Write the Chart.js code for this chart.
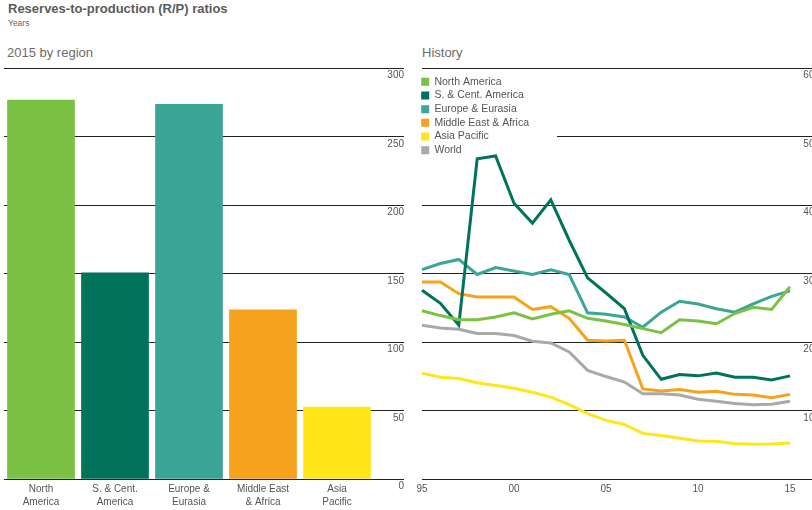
<!DOCTYPE html>
<html><head><meta charset="utf-8">
<script src="https://cdn.jsdelivr.net/npm/chart.js@4/dist/chart.umd.min.js"></script>
<style>
html,body{margin:0;padding:0;width:812px;height:510px;overflow:hidden;background:#fff;font-family:"Liberation Sans",Arial,sans-serif;position:relative;}
.t{position:absolute;white-space:nowrap;}
#title{left:8px;top:1px;font-size:13px;line-height:15px;font-weight:bold;color:#5b5b5b;}
#sub{left:8px;top:17.5px;font-size:8.5px;line-height:10px;color:#666;}
#h1{left:7px;top:44.5px;font-size:13px;line-height:15px;color:#6b6b6b;}
#h2{left:422px;top:44.5px;font-size:13px;line-height:15px;color:#6b6b6b;}
#c1{position:absolute;left:0;top:0;}
#c2{position:absolute;left:412px;top:0;}
</style></head>
<body>
<div class="t" id="title">Reserves-to-production (R/P) ratios</div>
<div class="t" id="sub">Years</div>
<div class="t" id="h1">2015 by region</div>
<div class="t" id="h2">History</div>
<canvas id="c1" width="404" height="510"></canvas>
<canvas id="c2" width="408" height="510"></canvas>
<script>
// ---- data ----
const regions = ['North America', 'S. & Cent. America', 'Europe & Eurasia', 'Middle East & Africa', 'Asia Pacific'];
const regionTickLines = [['North', 'America'], ['S. & Cent.', 'America'], ['Europe &', 'Eurasia'], ['Middle East', '& Africa'], ['Asia', 'Pacific']];
const rp2015 = [277, 151, 274, 124, 53];

const years = [1995, 1996, 1997, 1998, 1999, 2000, 2001, 2002, 2003, 2004, 2005, 2006, 2007, 2008, 2009, 2010, 2011, 2012, 2013, 2014, 2015];
const tickYears = [1995, 2000, 2005, 2010, 2015];
const tickYearLabels = ['95', '00', '05', '10', '15'];

const northAmerica = [246, 239, 233, 233, 237, 243, 234, 241, 246, 235, 231, 226, 220, 214, 233, 231, 227, 242, 251, 248, 281];
const sCentAmerica = [276, 257, 225, 468, 472, 403, 374, 408, 349, 294, 272, 249, 181, 146, 153, 151, 155, 149, 149, 145, 151];
const europeEurasia = [306, 315, 321, 299, 309, 304, 299, 306, 299, 243, 241, 237, 222, 244, 260, 256, 249, 244, 256, 267, 275];
const middleEastAfrica = [288, 288, 271, 266, 266, 266, 248, 252, 235, 203, 202, 203, 132, 129, 131, 127, 128.5, 124, 123, 119, 124];
const asiaPacific = [155, 149, 147, 141, 137, 133, 127, 120, 109, 96, 86, 80, 67, 64, 60, 56, 55.5, 52, 51, 51.5, 53];
const world = [225, 221, 219, 213, 213, 210, 201.5, 199, 186, 159, 150, 142, 125, 125, 123, 117, 114, 110.5, 109, 109.5, 114];

const barTicks = [0, 50, 100, 150, 200, 250, 300];
const historyTicks = [0, 100, 200, 300, 400, 500, 600];

// ---- styles ----
const colNA = '#7bc143', colSC = '#00735a', colEE = '#3ba596', colME = '#f6a21c', colAP = '#ffe619', colW = '#a8a9ab';
const FONT = '"Liberation Sans", Arial, sans-serif';
const tickColor = '#555';
const gridColor = '#222';

new Chart(document.getElementById('c1'), {
  type: 'bar',
  data: {
    labels: regionTickLines,
    datasets: [{
      data: rp2015,
      backgroundColor: [colNA, colSC, colEE, colME, colAP],
      barPercentage: 0.915,
      categoryPercentage: 1
    }]
  },
  options: {
    responsive: false, animation: false,
    layout: {padding: {left: 4, top: 68.3, right: 0, bottom: 0}},
    plugins: {legend: {display: false}, tooltip: {enabled: false}},
    scales: {
      x: {
        grid: {display: false, drawTicks: false}, border: {display: false},
        ticks: {color: tickColor, font: {family: FONT, size: 10, lineHeight: 1.3}, padding: 3, maxRotation: 0, autoSkip: false},
        afterFit: s => { s.height = 30.7; }
      },
      y: {
        position: 'right', min: 0, max: 300,
        afterBuildTicks: s => { s.ticks = barTicks.map(v => ({value: v})); },
        ticks: {color: tickColor, font: {family: FONT, size: 10}, crossAlign: 'far', labelOffset: 7, padding: 0},
        grid: {color: gridColor, lineWidth: 1, tickLength: 30, drawTicks: true, tickColor: gridColor},
        border: {display: false},
        afterFit: s => { s.width = 30; }
      }
    }
  }
});

const mk = (label, data, color) => ({label, data, borderColor: color, backgroundColor: color, borderWidth: 3, pointRadius: 0, tension: 0, fill: false});

const legendPlace = {
  id: 'legendPlace',
  beforeDraw(chart) {
    const lg = chart.legend;
    if (!lg) return;
    const dy = (chart.chartArea.top + 5) - lg.top;
    const dx = -4;
    lg.top += dy; lg.bottom += dy; lg.left += dx; lg.right += dx;
    if (lg.legendHitBoxes) lg.legendHitBoxes.forEach(h => { h.top += dy; h.left += dx; });
  },
  beforeDatasetsDraw(chart) {
    const lg = chart.legend;
    if (!lg || !lg.legendHitBoxes || !lg.legendHitBoxes.length) return;
    const hb = lg.legendHitBoxes;
    const last = hb[hb.length - 1];
    const ctx = chart.ctx;
    const top = chart.chartArea.top + 1;
    const bottom = last.top + last.height + 2;
    ctx.save();
    ctx.fillStyle = '#fff';
    ctx.fillRect(chart.chartArea.left - 1, top, 136, bottom - top);
    ctx.restore();
    lg.draw();
  }
};

new Chart(document.getElementById('c2'), {
  type: 'line',
  data: {
    labels: years,
    datasets: [
      mk('North America', northAmerica, colNA),
      mk('S. & Cent. America', sCentAmerica, colSC),
      mk('Europe & Eurasia', europeEurasia, colEE),
      mk('Middle East & Africa', middleEastAfrica, colME),
      mk('Asia Pacific', asiaPacific, colAP),
      mk('World', world, colW)
    ]
  },
  plugins: [legendPlace],
  options: {
    responsive: false, animation: false,
    layout: {padding: {left: 10, top: 68.3, right: 0, bottom: 0}},
    plugins: {
      tooltip: {enabled: false},
      legend: {
        position: 'chartArea', align: 'start',
        labels: {
          boxWidth: 8, boxHeight: 8, padding: 3.2, color: tickColor,
          font: {family: FONT, size: 10.5},
          generateLabels: chart => Chart.defaults.plugins.legend.labels.generateLabels(chart).map(l => Object.assign(l, {lineWidth: 0}))
        }
      }
    },
    scales: {
      x: {
        offset: false,
        grid: {display: false, drawTicks: false}, border: {display: false},
        ticks: {
          color: tickColor, font: {family: FONT, size: 10}, padding: 4, maxRotation: 0, autoSkip: false,
          callback: (v, i) => { const k = tickYears.indexOf(years[i]); return k >= 0 ? tickYearLabels[k] : ''; }
        },
        afterFit: s => { s.height = 30.7; }
      },
      y: {
        position: 'right', min: 0, max: 600,
        afterBuildTicks: s => { s.ticks = historyTicks.map(v => ({value: v})); },
        ticks: {color: tickColor, font: {family: FONT, size: 10}, crossAlign: 'far', labelOffset: 7, padding: 0},
        grid: {color: gridColor, lineWidth: 1, tickLength: 30, drawTicks: true, tickColor: gridColor},
        border: {display: false},
        afterFit: s => { s.width = 30; }
      }
    }
  }
});
</script>
</body></html>
